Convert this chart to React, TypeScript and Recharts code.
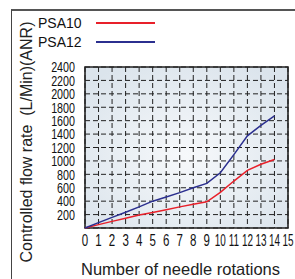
import { LineChart, Line, XAxis, YAxis, CartesianGrid, Legend, ReferenceArea } from 'recharts';

const rotations = [0, 1, 2, 3, 4, 5, 6, 7, 8, 9, 10, 11, 12, 13, 14];
const psa10 = [0, 50, 99, 145, 195, 232, 272, 315, 355, 390, 530, 700, 860, 950, 1020];
const psa12 = [0, 80, 158, 235, 315, 400, 463, 527, 600, 665, 823, 1094, 1374, 1530, 1670];
const xTicks = [0, 1, 2, 3, 4, 5, 6, 7, 8, 9, 10, 11, 12, 13, 14, 15];
const yTicks = [0, 200, 400, 600, 800, 1000, 1200, 1400, 1600, 1800, 2000, 2200, 2400];

const series = [
    { dataKey: 'psa10', name: 'PSA10', stroke: '#e8202a' },
    { dataKey: 'psa12', name: 'PSA12', stroke: '#2b2f8f' },
];

const data = rotations.map((n, i) => ({ n, psa10: psa10[i], psa12: psa12[i] }));

const FONT = '"Liberation Sans", Arial, sans-serif';

function YTick({ x, y, payload }: any) {
    if (payload.value === 0) return <g />;
    return (
        <text transform={`translate(${x},${y}) scale(0.74,1.06)`} textAnchor="end" dy={5} fontSize={14.5} fill="#111" fontFamily={FONT}>
            {payload.value}
        </text>
    );
}

function XTick({ x, y, payload }: any) {
    const sx = payload.value >= 10 ? 0.62 : 0.72;
    return (
        <text transform={`translate(${x},${y}) scale(${sx},1)`} textAnchor="middle" dy={12} fontSize={16} fill="#111" fontFamily={FONT}>
            {payload.value}
        </text>
    );
}

function renderLegend() {
    return (
        <div style={{ position: 'relative', width: 130, height: 40, fontFamily: FONT, fontSize: 14, color: '#111' }}>
            {series.map((s, i) => (
                <div key={s.dataKey} style={{ position: 'absolute', left: 0, top: i * 19, height: 16, display: 'flex', alignItems: 'center' }}>
                    <span style={{ width: 58, lineHeight: '16px' }}>{s.name}</span>
                    <span style={{ display: 'block', width: 59, height: 1.5, background: s.stroke }} />
                </div>
            ))}
        </div>
    );
}

export default function App() {
    return (
        <div style={{ position: 'absolute', left: 0, top: 0, width: 295, height: 279, background: '#fff' }}>
            <div style={{ position: 'absolute', left: 11, top: 9, right: 0, bottom: 0, borderTop: '2px solid #555', borderLeft: '1.5px solid #444' }} />
            <LineChart width={295} height={279} data={data} margin={{ top: 67, right: 7, left: 0, bottom: 0 }}>
                <defs>
                    <radialGradient id="plotBg" cx="50%" cy="55%" r="65%">
                        <stop offset="0%" stopColor="#f7f9fb" />
                        <stop offset="100%" stopColor="#dbe4ec" />
                    </radialGradient>
                </defs>
                <CartesianGrid fill="url(#plotBg)" stroke="#222" strokeDasharray="5 3" strokeWidth={1} />
                <XAxis
                    dataKey="n"
                    type="number"
                    domain={[0, 15]}
                    ticks={xTicks}
                    interval={0}
                    height={51}
                    axisLine={false}
                    tickLine={false}
                    tickSize={0}
                    tickMargin={6}
                    tick={<XTick />}
                    label={{
                        content: ({ viewBox }: any) => (
                            <text x={viewBox.x + viewBox.width / 2 - 6} y={275} textAnchor="middle" fontSize={16.5} fill="#222" fontFamily={FONT}>
                                Number of needle rotations
                            </text>
                        ),
                    }}
                />
                <YAxis
                    type="number"
                    domain={[0, 2400]}
                    ticks={yTicks}
                    interval={0}
                    width={85}
                    axisLine={false}
                    tickLine={false}
                    tickSize={0}
                    tickMargin={10}
                    tick={<YTick />}
                    label={{
                        content: () => (
                            <text transform="translate(32,142) rotate(-90)" textAnchor="middle" fontSize={16} fill="#222" fontFamily={FONT}>
                                {'Controlled flow rate \u00a0(L/Min)(ANR)'}
                            </text>
                        ),
                    }}
                />
                <ReferenceArea x1={0} x2={15} y1={0} y2={2400} fill="none" stroke="#222" strokeWidth={1.6} ifOverflow="visible" />
                <Legend
                    layout="vertical"
                    align="center"
                    verticalAlign="middle"
                    wrapperStyle={{ position: 'absolute', left: 38, top: 15, width: 130 }}
                    content={renderLegend}
                />
                {series.map((s) => (
                    <Line
                        key={s.dataKey}
                        type="linear"
                        dataKey={s.dataKey}
                        name={s.name}
                        stroke={s.stroke}
                        strokeWidth={1.5}
                        dot={false}
                        isAnimationActive={false}
                    />
                ))}
            </LineChart>
        </div>
    );
}
